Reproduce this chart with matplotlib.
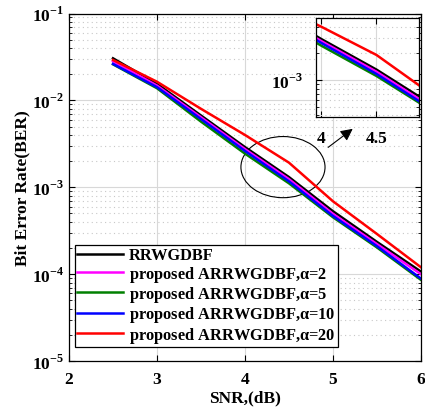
import numpy as np
import matplotlib
matplotlib.use('Agg')
from matplotlib import pyplot as plt
from matplotlib.patches import Ellipse

plt.rcParams['font.family'] = ['Liberation Serif', 'DejaVu Serif']
plt.rcParams['font.weight'] = 'bold'
plt.rcParams['mathtext.fontset'] = 'custom'
plt.rcParams['mathtext.rm'] = 'Liberation Serif:bold'
plt.rcParams['mathtext.bf'] = 'Liberation Serif:bold'

# SNR / BER data
snr = [2.5, 3, 3.5, 4, 4.5, 5, 5.5, 6]
ber_rrwgdbf = [0.0305, 0.0155, 0.0067, 0.0029, 0.00131, 0.00053, 0.000235, 0.000107]
ber_a2 = [0.0282, 0.0148, 0.0064, 0.00275, 0.00124, 0.000495, 0.000222, 0.0001]
ber_a5 = [0.0260, 0.0138, 0.0057, 0.00244, 0.00111, 0.000452, 0.000203, 0.000086]
ber_a10 = [0.0263, 0.0142, 0.0061, 0.00262, 0.00117, 0.000468, 0.000210, 0.000089]
ber_a20 = [0.0292, 0.0164, 0.0080, 0.0040, 0.00192, 0.00069, 0.00029, 0.00012]

series = [
    (ber_rrwgdbf, 'black', 'RRWGDBF'),
    (ber_a2, '#ff00ff', r'proposed ARRWGDBF,$\mathbf{\alpha}$=2'),
    (ber_a5, '#008000', r'proposed ARRWGDBF,$\mathbf{\alpha}$=5'),
    (ber_a10, '#0000ff', r'proposed ARRWGDBF,$\mathbf{\alpha}$=10'),
    (ber_a20, '#ff0000', r'proposed ARRWGDBF,$\mathbf{\alpha}$=20'),
]

xticks = [2, 3, 4, 5, 6]
yticks = [1e-5, 1e-4, 1e-3, 1e-2, 1e-1]
ylabels = [r'$10^{-5}$', r'$10^{-4}$', r'$10^{-3}$', r'$10^{-2}$', r'$10^{-1}$']


def style_axes(ax):
    ax.set_yscale('log')
    ax.tick_params(which='both', direction='in', top=True, right=True, labelsize=12.5)
    ax.tick_params(which='major', length=4, width=0.8)
    ax.tick_params(which='minor', length=2.5, width=0.6)
    ax.grid(True, which='major', color='#d8d8d8', lw=0.8)
    ax.yaxis.grid(True, which='minor', color='#c8c8c8', ls=(0, (1, 3)), lw=0.8)
    ax.set_axisbelow(True)
    for s in ax.spines.values():
        s.set_linewidth(0.9)


fig = plt.figure(figsize=(4.25, 4.1), dpi=100)
ax = fig.add_axes([0.1624, 0.117, 0.828, 0.8476])
for vals, col, lab in series:
    ax.plot(snr, vals, color=col, lw=1.8, label=lab)
style_axes(ax)
ax.set_xlim(2, 6)
ax.set_ylim(1e-5, 1e-1)
ax.set_xticks(xticks)
ax.set_xticklabels([str(t) for t in xticks])
ax.set_yticks(yticks)
ax.set_yticklabels(ylabels)
ax.tick_params(axis='x', which='major', pad=7)
ax.set_xlabel('SNR,(dB)', fontsize=12.5, fontweight='bold', labelpad=2)
ax.set_ylabel('Bit Error Rate(BER)', fontsize=12.5, fontweight='bold', labelpad=1)

leg = ax.legend(loc='lower left', bbox_to_anchor=(0.017, 0.04), borderaxespad=0,
                fancybox=False, edgecolor='black', framealpha=1,
                handlelength=2.8, handletextpad=0.35, labelspacing=0.02,
                borderpad=0.15, prop={'weight': 'bold', 'size': 11.8})
leg.get_frame().set_linewidth(0.9)

# zoom marks
ax.add_patch(Ellipse((0.608, 0.558), 0.239, 0.176, transform=ax.transAxes,
                     fill=False, color='black', lw=0.8))
ax.annotate('', xy=(0.8125, 0.673), xytext=(0.730, 0.610), xycoords='axes fraction',
            arrowprops=dict(arrowstyle='-|>', color='black', lw=0.8, mutation_scale=18))

# inset
ins = fig.add_axes([0.7435, 0.712, 0.242, 0.241])
for vals, col, lab in series:
    ins.plot(snr, vals, color=col, lw=1.8)
style_axes(ins)
ins.set_xlim(3.95, 4.885)
ins.set_ylim(3.8e-4, 5.0e-3)
ins.set_xticks([4, 4.5])
ins.set_xticklabels(['4', '4.5'])
ins.set_yticks([1e-3])
ins.set_yticklabels([r'$10^{-3}$'])
ins.tick_params(which='major', pad=9)
ins.set_facecolor('white')

fig.savefig('out.png', dpi=100)
